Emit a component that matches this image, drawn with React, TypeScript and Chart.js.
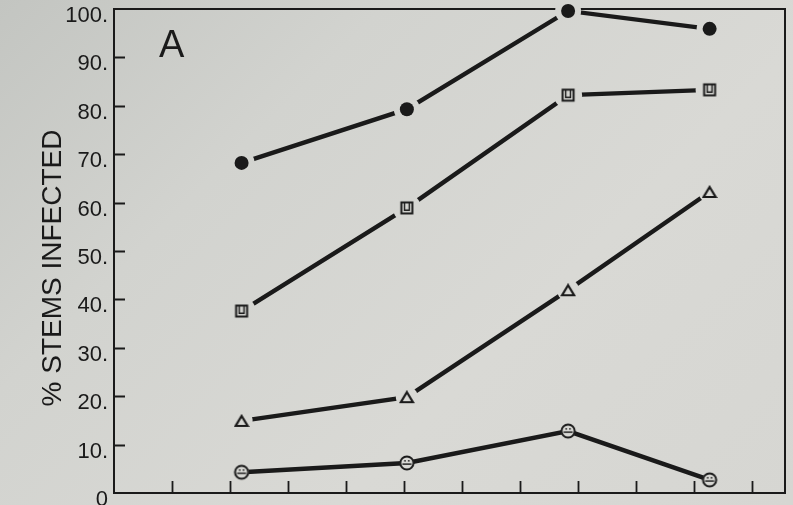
import React, { useEffect, useRef } from 'react';
import { Chart, registerables } from 'chart.js';

Chart.register(...registerables);

// ---- data ----
const xValues = [2.2, 5.05, 7.83, 10.27];
const filledCircleSeries = [68.2, 79.3, 99.6, 95.9];
const openSquareSeries = [37.6, 58.9, 82.2, 83.3];
const openTriangleSeries = [14.9, 19.8, 41.9, 62.2];
const openCircleSeries = [4.3, 6.2, 12.8, 2.7];
const yTickValues = [10, 20, 30, 40, 50, 60, 70, 80, 90];
const xTickValues = [1, 2, 3, 4, 5, 6, 7, 8, 9, 10, 11];
const yTitle = '% STEMS INFECTED';
const panelLabel = 'A';

const INK = '#1a1a1a';
const FONT = '"Liberation Sans", Arial, Helvetica, sans-serif';

function makeCanvas(w: number, h: number) {
  const c = document.createElement('canvas');
  c.width = w;
  c.height = h;
  return c;
}

function squareMarker() {
  const c = makeCanvas(16, 16);
  const g = c.getContext('2d')!;
  g.strokeStyle = INK;
  g.lineWidth = 2;
  g.strokeRect(2.5, 2.5, 11, 11);
  g.beginPath();
  g.moveTo(5.6, 3);
  g.lineTo(5.6, 10.2);
  g.lineTo(10.4, 10.2);
  g.lineTo(10.4, 3);
  g.lineWidth = 1.4;
  g.stroke();
  return c;
}

function triangleMarker() {
  const c = makeCanvas(16, 14);
  const g = c.getContext('2d')!;
  g.strokeStyle = INK;
  g.lineWidth = 2.2;
  g.lineJoin = 'miter';
  g.beginPath();
  g.moveTo(8, 2);
  g.lineTo(14, 12);
  g.lineTo(2, 12);
  g.closePath();
  g.stroke();
  return c;
}

function openCircleMarker() {
  const c = makeCanvas(18, 18);
  const g = c.getContext('2d')!;
  g.strokeStyle = INK;
  g.fillStyle = INK;
  g.lineWidth = 2;
  g.beginPath();
  g.arc(9, 9, 6.6, 0, Math.PI * 2);
  g.stroke();
  g.beginPath();
  g.moveTo(4.5, 10.1);
  g.lineTo(13.5, 10.1);
  g.lineWidth = 1.4;
  g.stroke();
  g.beginPath();
  g.arc(7.1, 6.8, 0.9, 0, Math.PI * 2);
  g.arc(10.9, 6.8, 0.9, 0, Math.PI * 2);
  g.fill();
  return c;
}

const paperPlugin = {
  id: 'paper',
  beforeDatasetsDraw(chart: any) {
    const { ctx, chartArea: a, scales } = chart;
    ctx.save();
    ctx.strokeStyle = INK;
    ctx.lineWidth = 2;
    ctx.strokeRect(a.left, a.top, a.right - a.left, a.bottom - a.top);
    ctx.beginPath();
    for (const v of yTickValues) {
      const y = Math.round(scales.y.getPixelForValue(v)) + 0.5;
      ctx.moveTo(a.left, y);
      ctx.lineTo(a.left + 11, y);
    }
    for (const v of xTickValues) {
      const x = Math.round(scales.x.getPixelForValue(v)) + 0.5;
      ctx.moveTo(x, a.bottom);
      ctx.lineTo(x, a.bottom - 12);
    }
    ctx.lineWidth = 1.8;
    ctx.stroke();

    ctx.fillStyle = INK;
    ctx.font = `38px ${FONT}`;
    ctx.textAlign = 'left';
    ctx.textBaseline = 'alphabetic';
    ctx.fillText(panelLabel, 159, 57);

    ctx.translate(53, 268);
    ctx.rotate(-Math.PI / 2);
    ctx.font = `28px ${FONT}`;
    ctx.textAlign = 'center';
    ctx.textBaseline = 'middle';
    ctx.fillText(yTitle, 0, 0);
    ctx.restore();
  },
  beforeDatasetDraw(chart: any, args: any) {
    const ds: any = chart.data.datasets[args.index];
    if (!ds.halo) return;
    const ctx = chart.ctx;
    ctx.save();
    ctx.globalCompositeOperation = 'destination-out';
    ctx.fillStyle = '#000';
    for (const pt of args.meta.data) {
      ctx.beginPath();
      ctx.arc(pt.x, pt.y, ds.halo, 0, Math.PI * 2);
      ctx.fill();
    }
    ctx.restore();
  },
};

export default function App() {
  const ref = useRef<HTMLCanvasElement>(null);

  useEffect(() => {
    const canvas = ref.current!;
    const pts = (vals: number[]) => xValues.map((x, i) => ({ x, y: vals[i] }));
    const lineDs = (vals: number[]) => ({
      data: pts(vals),
      borderColor: INK,
      borderWidth: 4.4,
      pointRadius: 0,
      fill: false,
      tension: 0,
      order: 2,
      clip: false,
    });
    const markDs = (vals: number[], style: any, halo: number, radius = 7) => ({
      data: pts(vals),
      showLine: false,
      pointStyle: style,
      pointRadius: radius,
      pointBackgroundColor: INK,
      pointBorderColor: INK,
      pointBorderWidth: 0,
      order: 1,
      clip: false,
      halo,
    });

    const chart = new Chart(canvas, {
      type: 'line',
      data: {
        datasets: [
          lineDs(filledCircleSeries),
          lineDs(openSquareSeries),
          lineDs(openTriangleSeries),
          lineDs(openCircleSeries),
          markDs(filledCircleSeries, 'circle', 13, 7),
          markDs(openSquareSeries, squareMarker(), 14),
          markDs(openTriangleSeries, triangleMarker(), 11),
          markDs(openCircleSeries, openCircleMarker(), 7),
        ] as any,
      },
      options: {
        animation: false,
        responsive: false,
        layout: { padding: { left: 0, top: 9, right: 8, bottom: 12 } },
        plugins: { legend: { display: false }, tooltip: { enabled: false } },
        scales: {
          x: { type: 'linear', min: 0, max: 11.57, display: false },
          y: {
            type: 'linear',
            min: 0,
            max: 100,
            afterFit(s: any) {
              s.width = 114;
              s.paddingTop = 0;
              s.paddingBottom = 0;
            },
            grid: { display: false, drawTicks: false },
            border: { display: false },
            ticks: {
              stepSize: 10,
              padding: 6,
              labelOffset: 7,
              color: INK,
              font: { family: FONT, size: 22 },
              callback: (v: any) => (v === 0 ? '0' : `${v}.`),
            },
          },
        },
      } as any,
      plugins: [paperPlugin],
    });
    return () => chart.destroy();
  }, []);

  return (
    <div style={{ position: 'fixed', left: 0, top: 0, width: 793, height: 505 }}>
      <canvas
        ref={ref}
        width={793}
        height={505}
        style={{
          display: 'block',
          width: 793,
          height: 505,
          background:
            'linear-gradient(135deg, #c3c5c1 0%, #d2d3cf 30%, #d9d9d5 65%, #d6d6d2 100%)',
        }}
      />
    </div>
  );
}
